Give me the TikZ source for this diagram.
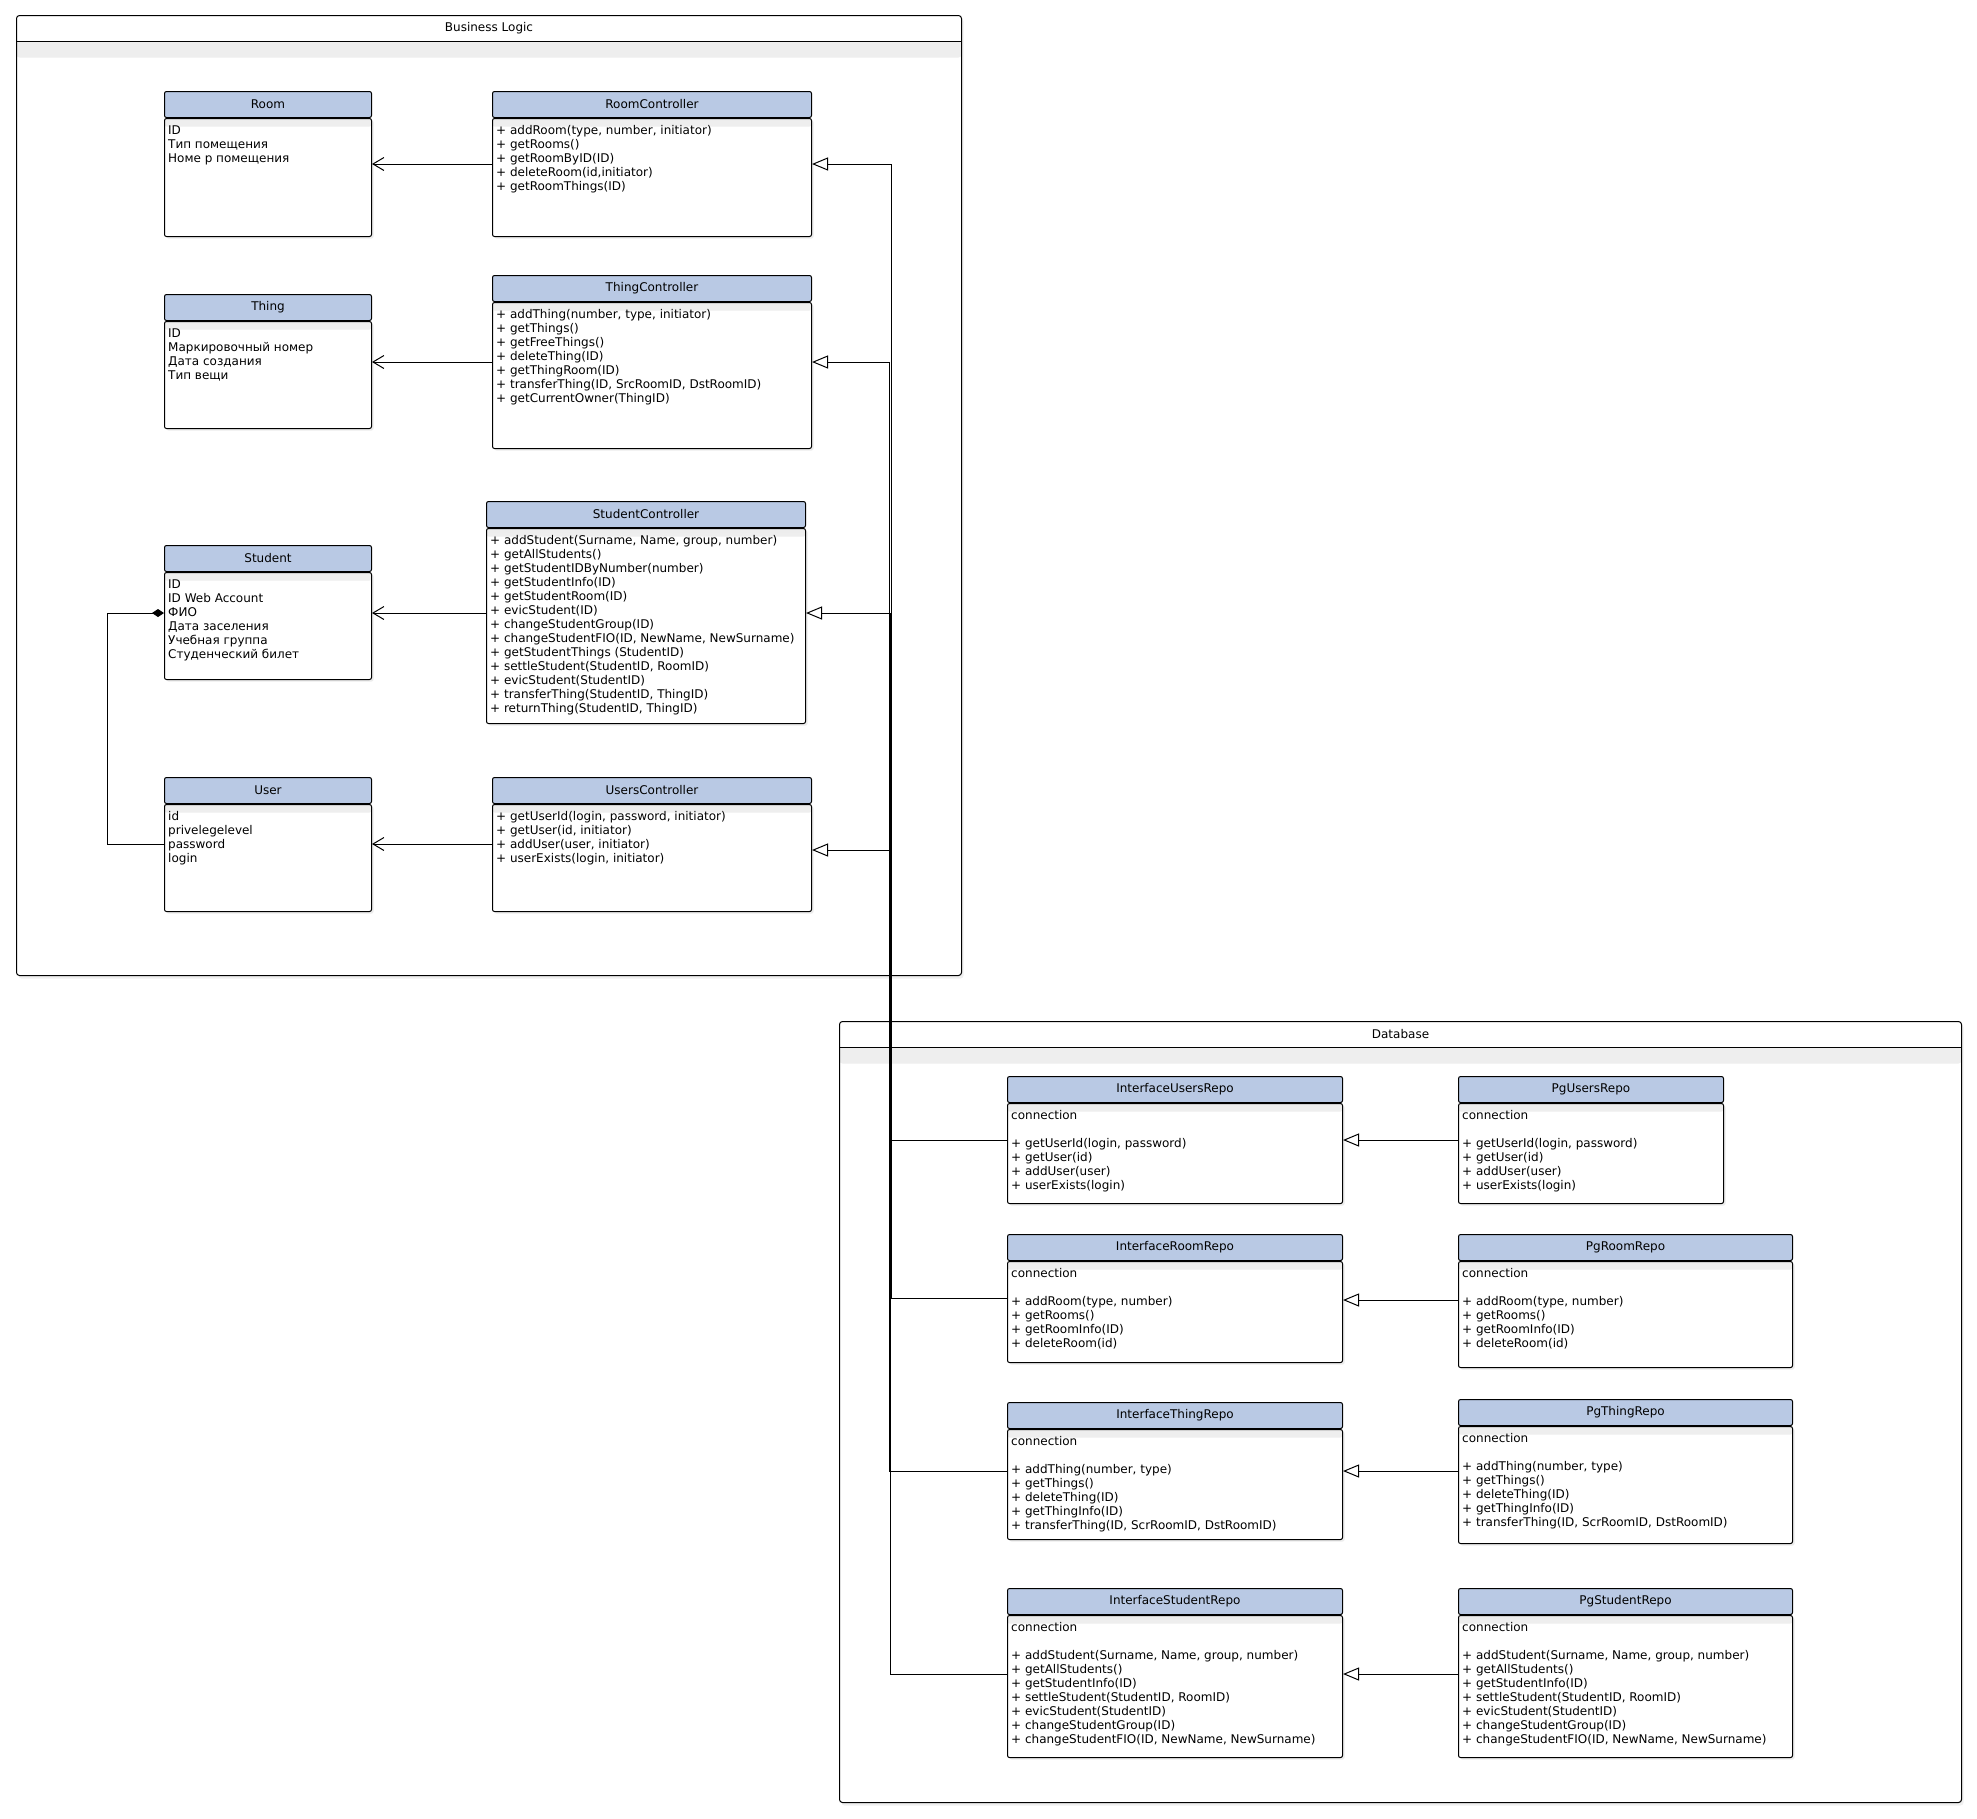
\documentclass[tikz,border=0pt]{standalone}
\usepackage{fontspec}
\setmainfont{DejaVu Sans}
\usepackage{tikz}
\usetikzlibrary{arrows.meta,positioning,shadows}
\definecolor{hdrblue}{RGB}{185,201,228}

\begin{document}
\begin{tikzpicture}[x=1pt,y=-1pt,
  frame/.style={draw,rounded corners=3pt,line width=1pt,anchor=north west,fill=white,inner sep=0pt,
                drop shadow={opacity=0.12,shadow xshift=2pt,shadow yshift=-3pt},
                path picture={\shade[top color=black!7,bottom color=white]
                  ([yshift=-26pt]path picture bounding box.north west) rectangle
                  ([yshift=-42pt]path picture bounding box.north east);}},
  framehdr/.style={anchor=north,minimum height=26pt,inner sep=0pt,font=\fontsize{12}{14}\selectfont},
  hdr/.style={draw,fill=hdrblue,rounded corners=2pt,line width=1pt,anchor=north west,
              minimum height=26pt,inner sep=0pt,font=\fontsize{12}{14}\selectfont},
  body/.style={draw,fill=white,rounded corners=2pt,line width=1pt,inner sep=0pt,
               drop shadow={opacity=0.15,shadow xshift=2pt,shadow yshift=-2pt},
               path picture={\shade[top color=black!7,bottom color=white]
                 (path picture bounding box.north west) rectangle
                 ([yshift=-8pt]path picture bounding box.north east);}},
  members/.style={anchor=north west,align=left,inner xsep=4pt,inner ysep=7.5pt,
                  font=\fontsize{12}{14}\selectfont},
  assoc/.style={-{Straight Barb[length=11pt,width=13pt,line width=1pt]},line width=1pt},
  inherit/.style={-{Triangle[open,length=16pt,width=13pt,fill=white,line width=1pt]},line width=1pt},
  compos/.style={{Diamond[length=12pt,width=8pt]}-,line width=1pt}
]
\fill[white] (0,0) rectangle (1977,1818);

% frames
\node[frame,minimum width=945,minimum height=960] (bl) at (16,15) {};
\node[framehdr,minimum width=945] (blh) at (bl.north) {Business Logic};
\draw[line width=1pt] (blh.south west) -- (blh.south east);
\node[frame,minimum width=1122,minimum height=781] (db) at (839,1021) {};
\node[framehdr,minimum width=1122] (dbh) at (db.north) {Database};
\draw[line width=1pt] (dbh.south west) -- (dbh.south east);

% Business Logic: entities
\node[hdr,minimum width=207] (room) at (164,91) {Room};
\node[body,minimum width=207,minimum height=118,below=0pt of room] (roomb) {};
\node[members] (roomm) at (roomb.north west) {ID\\Тип помещения\\Номе р помещения};

\node[hdr,minimum width=207] (thing) at (164,294) {Thing};
\node[body,minimum width=207,minimum height=107,below=0pt of thing] (thingb) {};
\node[members] (thingm) at (thingb.north west) {ID\\Маркировочный номер\\Дата создания\\Тип вещи};

\node[hdr,minimum width=207] (stud) at (164,545) {Student};
\node[body,minimum width=207,minimum height=107,below=0pt of stud] (studb) {};
\node[members] (studm) at (studb.north west)
  {ID\\ID Web Account\\ФИО\\Дата заселения\\Учебная группа\\Студенческий билет};

\node[hdr,minimum width=207] (user) at (164,777) {User};
\node[body,minimum width=207,minimum height=107,below=0pt of user] (userb) {};
\node[members] (userm) at (userb.north west) {id\\privelegelevel\\password\\login};

% Business Logic: controllers
\node[hdr,minimum width=319] (rc) at (492,91) {RoomController};
\node[body,minimum width=319,minimum height=118,below=0pt of rc] (rcb) {};
\node[members] (rcm) at (rcb.north west)
  {+ addRoom(type, number, initiator)\\+ getRooms()\\+ getRoomByID(ID)\\+ deleteRoom(id,initiator)\\+ getRoomThings(ID)};

\node[hdr,minimum width=319] (tc) at (492,275) {ThingController};
\node[body,minimum width=319,minimum height=146,below=0pt of tc] (tcb) {};
\node[members] (tcm) at (tcb.north west)
  {+ addThing(number, type, initiator)\\+ getThings()\\+ getFreeThings()\\+ deleteThing(ID)\\+ getThingRoom(ID)\\
   + transferThing(ID, SrcRoomID, DstRoomID)\\+ getCurrentOwner(ThingID)};

\node[hdr,minimum width=319] (sc) at (486,501) {StudentController};
\node[body,minimum width=319,minimum height=195,below=0pt of sc] (scb) {};
\node[members] (scm) at (scb.north west)
  {+ addStudent(Surname, Name, group, number)\\+ getAllStudents()\\+ getStudentIDByNumber(number)\\
   + getStudentInfo(ID)\\+ getStudentRoom(ID)\\+ evicStudent(ID)\\+ changeStudentGroup(ID)\\
   + changeStudentFIO(ID, NewName, NewSurname)\\+ getStudentThings (StudentID)\\
   + settleStudent(StudentID, RoomID)\\+ evicStudent(StudentID)\\+ transferThing(StudentID, ThingID)\\
   + returnThing(StudentID, ThingID)};

\node[hdr,minimum width=319] (uc) at (492,777) {UsersController};
\node[body,minimum width=319,minimum height=107,below=0pt of uc] (ucb) {};
\node[members] (ucm) at (ucb.north west)
  {+ getUserId(login, password, initiator)\\+ getUser(id, initiator)\\+ addUser(user, initiator)\\+ userExists(login, initiator)};

% Database: interfaces
\node[hdr,minimum width=335] (iur) at (1007,1076) {InterfaceUsersRepo};
\node[body,minimum width=335,minimum height=100,below=0pt of iur] (iurb) {};
\node[members] (iurm) at (iurb.north west)
  {connection\\[14pt]+ getUserId(login, password)\\+ getUser(id)\\+ addUser(user)\\+ userExists(login)};

\node[hdr,minimum width=335] (irr) at (1007,1234) {InterfaceRoomRepo};
\node[body,minimum width=335,minimum height=101,below=0pt of irr] (irrb) {};
\node[members] (irrm) at (irrb.north west)
  {connection\\[14pt]+ addRoom(type, number)\\+ getRooms()\\+ getRoomInfo(ID)\\+ deleteRoom(id)};

\node[hdr,minimum width=335] (itr) at (1007,1402) {InterfaceThingRepo};
\node[body,minimum width=335,minimum height=110,below=0pt of itr] (itrb) {};
\node[members] (itrm) at (itrb.north west)
  {connection\\[14pt]+ addThing(number, type)\\+ getThings()\\+ deleteThing(ID)\\+ getThingInfo(ID)\\
   + transferThing(ID, ScrRoomID, DstRoomID)};

\node[hdr,minimum width=335] (isr) at (1007,1588) {InterfaceStudentRepo};
\node[body,minimum width=335,minimum height=142,below=0pt of isr] (isrb) {};
\node[members] (isrm) at (isrb.north west)
  {connection\\[14pt]+ addStudent(Surname, Name, group, number)\\+ getAllStudents()\\+ getStudentInfo(ID)\\
   + settleStudent(StudentID, RoomID)\\+ evicStudent(StudentID)\\+ changeStudentGroup(ID)\\
   + changeStudentFIO(ID, NewName, NewSurname)};

% Database: postgres implementations
\node[hdr,minimum width=265] (pur) at (1458,1076) {PgUsersRepo};
\node[body,minimum width=265,minimum height=100,below=0pt of pur] (purb) {};
\node[members] (purm) at (purb.north west)
  {connection\\[14pt]+ getUserId(login, password)\\+ getUser(id)\\+ addUser(user)\\+ userExists(login)};

\node[hdr,minimum width=334] (prr) at (1458,1234) {PgRoomRepo};
\node[body,minimum width=334,minimum height=106,below=0pt of prr] (prrb) {};
\node[members] (prrm) at (prrb.north west)
  {connection\\[14pt]+ addRoom(type, number)\\+ getRooms()\\+ getRoomInfo(ID)\\+ deleteRoom(id)};

\node[hdr,minimum width=334] (ptr) at (1458,1399) {PgThingRepo};
\node[body,minimum width=334,minimum height=117,below=0pt of ptr] (ptrb) {};
\node[members] (ptrm) at (ptrb.north west)
  {connection\\[14pt]+ addThing(number, type)\\+ getThings()\\+ deleteThing(ID)\\+ getThingInfo(ID)\\
   + transferThing(ID, ScrRoomID, DstRoomID)};

\node[hdr,minimum width=334] (psr) at (1458,1588) {PgStudentRepo};
\node[body,minimum width=334,minimum height=142,below=0pt of psr] (psrb) {};
\node[members] (psrm) at (psrb.north west)
  {connection\\[14pt]+ addStudent(Surname, Name, group, number)\\+ getAllStudents()\\+ getStudentInfo(ID)\\
   + settleStudent(StudentID, RoomID)\\+ evicStudent(StudentID)\\+ changeStudentGroup(ID)\\
   + changeStudentFIO(ID, NewName, NewSurname)};

% controllers use entities
\draw[assoc] ([yshift=-46]rcb.north west) -- ([yshift=-46]roomb.north east);
\draw[assoc] ([yshift=-60]tcb.north west) -- ([yshift=-41]thingb.north east);
\draw[assoc] ([yshift=-85]scb.north west) -- ([yshift=-41]studb.north east);
\draw[assoc] ([yshift=-40]ucb.north west) -- ([yshift=-40]userb.north east);
\draw[compos] ([yshift=-41]studb.north west) -- ++(-57,0) |- ([yshift=-40]userb.north west);

% repos realise controllers (routed along one vertical)
\draw[inherit] ([yshift=-37]irrb.north west) -- ++(-116,0) |- ([yshift=-46]rcb.north east);
\draw[inherit] ([yshift=-42]itrb.north west) -- ++(-118,0) |- ([yshift=-60]tcb.north east);
\draw[inherit] ([yshift=-59]isrb.north west) -- ++(-117,0) |- ([yshift=-85]scb.north east);
\draw[inherit] ([yshift=-37]iurb.north west) -- ++(-117,0) |- ([yshift=-46]ucb.north east);

% postgres repos implement interfaces
\draw[inherit] ([yshift=-37]purb.north west) -- ([yshift=-37]iurb.north east);
\draw[inherit] ([yshift=-39]prrb.north west) -- ([yshift=-39]irrb.north east);
\draw[inherit] ([yshift=-45]ptrb.north west) -- ([yshift=-42]itrb.north east);
\draw[inherit] ([yshift=-59]psrb.north west) -- ([yshift=-59]isrb.north east);
\end{tikzpicture}
\end{document}
